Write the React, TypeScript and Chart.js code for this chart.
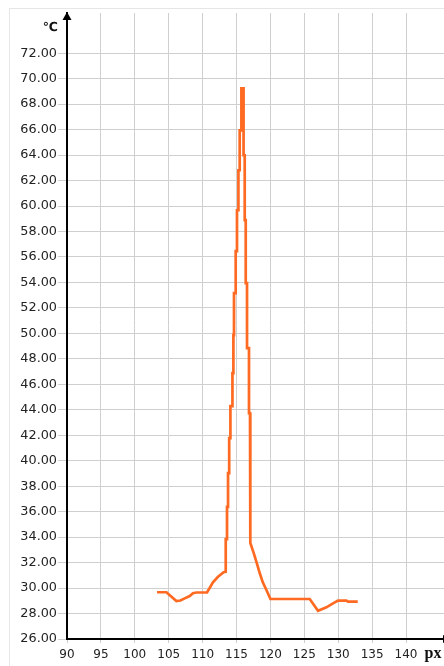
import React, { useEffect, useRef } from 'react';
import { Chart, registerables } from 'chart.js';

Chart.register(...registerables);

// Position along the measured axis (px)
const xValues: number[] = [
  103.28, 104.66, 106.14, 106.73, 107.36, 108.1, 108.58, 109.09, 110.65, 111.53, 112.27, 113.11,
  113.41, 113.41, 113.6, 113.6, 113.75, 113.75, 113.92, 113.92, 114.1, 114.1, 114.4, 114.4,
  114.54, 114.54, 114.63, 114.63, 114.88, 114.88, 115.07, 115.07, 115.28, 115.28, 115.47, 115.47,
  115.72, 115.72, 116.04, 116.04, 116.21, 116.21, 116.36, 116.36, 116.55, 116.55, 116.84, 116.84,
  116.99, 116.99, 117.06, 117.06, 117.54, 117.98, 118.42, 118.86, 119.41, 120.0, 125.8, 127.02,
  128.26, 129.23, 129.97, 131.21, 131.45, 132.88,
];

// Temperature (°C)
const yValues: number[] = [
  29.67, 29.67, 28.98, 29.02, 29.19, 29.37, 29.59, 29.65, 29.65, 30.45, 30.89, 31.24,
  31.28, 33.85, 33.85, 36.38, 36.38, 39.03, 39.03, 41.78, 41.78, 44.29, 44.29, 46.88,
  46.88, 49.86, 49.86, 53.16, 53.16, 56.46, 56.46, 59.67, 59.67, 62.81, 62.81, 65.95,
  65.95, 69.25, 69.25, 63.99, 63.99, 58.89, 58.89, 53.94, 53.94, 48.84, 48.84, 43.74,
  43.74, 38.64, 38.64, 33.54, 32.75, 31.97, 31.18, 30.47, 29.85, 29.14, 29.14, 28.22,
  28.49, 28.8, 29.01, 29.01, 28.93, 28.93,
];

const xMin = 90;
const xMax = 145.6;
const xStep = 5;
const xLastTick = 140;
const yMin = 26;
const yMax = 75.16;
const yStep = 2;
const yLastTick = 72;
const yUnitValue = 74;
const yUnit = '℃';
const xUnit = 'px';

const family = '"DejaVu Sans", Verdana, sans-serif';

const axisDecor = {
  id: 'axisDecor',
  afterDraw(chart: any) {
    const { ctx, chartArea, scales } = chart;
    const { left, top, right, bottom } = chartArea;
    ctx.save();
    ctx.fillStyle = '#000';
    // y-axis arrow
    ctx.beginPath();
    ctx.moveTo(left, top - 1);
    ctx.lineTo(left - 4.5, top + 7);
    ctx.lineTo(left + 4.5, top + 7);
    ctx.closePath();
    ctx.fill();
    // x-axis arrow
    ctx.beginPath();
    ctx.moveTo(right + 6, bottom);
    ctx.lineTo(right - 1, bottom - 4);
    ctx.lineTo(right - 1, bottom + 4);
    ctx.closePath();
    ctx.fill();
    // unit labels
    ctx.fillStyle = '#111';
    ctx.font = 'bold 12.5px "DejaVu Sans", sans-serif';
    ctx.textAlign = 'right';
    ctx.textBaseline = 'middle';
    ctx.fillText(yUnit, left - 9, scales.y.getPixelForValue(yUnitValue));
    ctx.font = 'bold 16px "Liberation Serif", serif';
    ctx.textAlign = 'center';
    ctx.textBaseline = 'alphabetic';
    ctx.fillText(xUnit, right - 11, bottom + 19);
    ctx.restore();
  },
};

export default function App() {
  const canvasRef = useRef<HTMLCanvasElement | null>(null);

  useEffect(() => {
    if (!canvasRef.current) return;
    const data = xValues.map((x, i) => ({ x, y: yValues[i] }));
    const chart = new Chart(canvasRef.current, {
      type: 'line',
      data: {
        datasets: [
          {
            data,
            borderColor: '#ff6a22',
            borderWidth: 2.7,
            pointRadius: 0,
            tension: 0,
            fill: false,
          },
        ],
      },
      options: {
        animation: false,
        responsive: false,
        parsing: false as any,
        layout: { padding: { top: 13, right: 0, bottom: 0, left: 0 } },
        plugins: { legend: { display: false }, tooltip: { enabled: false } },
        scales: {
          x: {
            type: 'linear',
            min: xMin,
            max: xMax,
            ticks: {
              stepSize: xStep,
              includeBounds: false,
              autoSkip: false,
              maxRotation: 0,
              color: '#222',
              font: { family, size: 12 },
              padding: 5,
              callback: (v: any) => String(v),
            },
            grid: { color: '#cfcfcf', lineWidth: 1, tickLength: 4 },
            border: { display: true, color: '#000', width: 2 },
            afterBuildTicks: (s: any) => {
              s.ticks = s.ticks.filter((t: any) => t.value <= xLastTick);
            },
            afterFit: (s: any) => {
              s.height = 27;
            },
          },
          y: {
            type: 'linear',
            min: yMin,
            max: yMax,
            ticks: {
              stepSize: yStep,
              includeBounds: false,
              autoSkip: false,
              color: '#222',
              font: { family, size: 12.8 },
              padding: 1,
              callback: (v: any) => Number(v).toFixed(2),
            },
            grid: { color: '#cfcfcf', lineWidth: 1, tickLength: 9 },
            border: { display: true, color: '#000', width: 2 },
            afterBuildTicks: (s: any) => {
              s.ticks = s.ticks.filter((t: any) => t.value <= yLastTick);
            },
            afterFit: (s: any) => {
              s.width = 67;
            },
          },
        },
      },
      plugins: [axisDecor],
    } as any);
    return () => chart.destroy();
  }, []);

  return (
    <div
      style={{
        position: 'fixed',
        left: 0,
        top: 0,
        width: 444,
        height: 666,
        overflow: 'hidden',
        background: '#fff',
      }}
    >
      <div
        style={{
          position: 'absolute',
          left: 9,
          top: 8,
          width: 500,
          height: 700,
          borderTop: '1px solid #e6e6e6',
          borderLeft: '1px solid #e6e6e6',
        }}
      />
      <canvas
        ref={canvasRef}
        width={444}
        height={666}
        style={{ position: 'absolute', left: 0, top: 0, width: 444, height: 666 }}
      />
    </div>
  );
}
